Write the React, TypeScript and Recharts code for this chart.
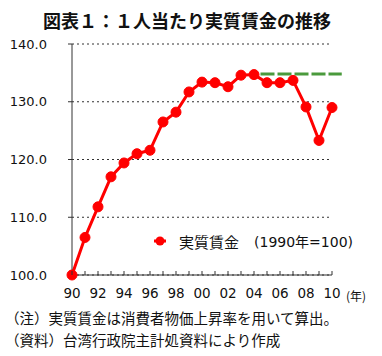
import { LineChart, Line, XAxis, YAxis, CartesianGrid, ReferenceLine } from 'recharts'

const years = [
  1990, 1991, 1992, 1993, 1994, 1995, 1996, 1997, 1998, 1999, 2000,
  2001, 2002, 2003, 2004, 2005, 2006, 2007, 2008, 2009, 2010,
]
const realWage = [
  100.0, 106.5, 111.8, 117.0, 119.4, 121.0, 121.6, 126.5, 128.2, 131.7, 133.4,
  133.3, 132.6, 134.6, 134.7, 133.3, 133.3, 133.7, 129.1, 123.3, 129.0,
]
const yTicks = [100, 110, 120, 130, 140]
// green dashed level line (previous peak)
const peakLevel = 134.8
const peakFrom = 2004.5
const peakTo = 2010.75

const title = '図表１：１人当たり実質賃金の推移'
const seriesName = '実質賃金'
const legendNote = '(1990年=100)'
const notes = [
  '（注）実質賃金は消費者物価上昇率を用いて算出。',
  '（資料）台湾行政院主計処資料により作成',
]

const data = years.map((year, i) => ({ year, wage: realWage[i] }))

const FONT = '"Noto Sans CJK JP", "Noto Sans", sans-serif'
const NUM_FONT = '"DejaVu Sans", "Noto Sans CJK JP", sans-serif'
const RED = '#ff0000'

const XTick = (props: any) => {
  const { x, y, payload } = props
  const yr: number = payload.value
  return (
    <g>
      <line x1={x} y1={y} x2={x} y2={y - 4} stroke="#333" strokeWidth={1} />
      {yr % 2 === 0 && (
        <text x={x} y={y + 23} textAnchor="middle" fontSize={13.5} fill="#111" fontFamily={NUM_FONT}>
          {String(yr).slice(2)}
        </text>
      )}
    </g>
  )
}

const App = () => {
  return (
    <div
      style={{
        position: 'absolute',
        left: 0,
        top: 0,
        width: 382,
        height: 356,
        background: '#fff',
        fontFamily: FONT,
        color: '#111',
      }}
    >
      <LineChart
        width={382}
        height={356}
        data={data}
        margin={{ top: 44, right: 50, bottom: 57, left: 0 }}
      >
        <CartesianGrid
          horizontal
          vertical={false}
          stroke="#333"
          strokeDasharray="2 3"
        />
        <XAxis
          dataKey="year"
          type="number"
          domain={[1990, 2010]}
          ticks={years}
          interval={0}
          height={24}
          tickSize={0}
          tickMargin={0}
          tickLine={false}
          axisLine={{ stroke: '#333' }}
          tick={<XTick />}
        />
        <YAxis
          domain={[100, 140]}
          ticks={yTicks}
          width={72}
          tickSize={4}
          tickMargin={21}
          tickFormatter={(v: number) => v.toFixed(1)}
          axisLine={{ stroke: '#333' }}
          tickLine={{ stroke: '#333' }}
          tick={{ fontSize: 13, fill: '#111', fontFamily: NUM_FONT }}
        />
        <ReferenceLine
          segment={[
            { x: peakFrom, y: peakLevel },
            { x: peakTo, y: peakLevel },
          ]}
          ifOverflow="visible"
          stroke="#4a9a3c"
          strokeWidth={3}
          strokeDasharray="14 3"
        />
        <Line
          dataKey="wage"
          stroke={RED}
          strokeWidth={3}
          dot={{ r: 5, fill: RED, stroke: RED, strokeWidth: 1 }}
          isAnimationActive={false}
        />
      </LineChart>

      <div
        style={{
          position: 'absolute',
          left: 0,
          width: 374,
          top: 10,
          textAlign: 'center',
          fontSize: 18,
          lineHeight: '20px',
          fontWeight: 'bold',
        }}
      >
        {title}
      </div>

      <div
        style={{
          position: 'absolute',
          left: 153,
          top: 230,
          height: 22,
          display: 'flex',
          alignItems: 'center',
          fontSize: 15,
          whiteSpace: 'nowrap',
        }}
      >
        <svg width={14} height={12} style={{ marginRight: 12 }}>
          <line x1={1} y1={6} x2={13} y2={6} stroke={RED} strokeWidth={3} />
          <circle cx={7} cy={6} r={4.5} fill={RED} />
        </svg>
        <span>{seriesName}</span>
        <span style={{ marginLeft: 15, fontFamily: NUM_FONT, fontSize: 14 }}>{legendNote}</span>
      </div>

      <div
        style={{
          position: 'absolute',
          left: 346,
          top: 288,
          fontSize: 12,
          lineHeight: '16px',
        }}
      >
        (年)
      </div>

      <div
        style={{
          position: 'absolute',
          left: 5,
          top: 307,
          fontSize: 14.5,
          lineHeight: '22px',
          whiteSpace: 'nowrap',
        }}
      >
        {notes.map((n) => (
          <div key={n}>{n}</div>
        ))}
      </div>
    </div>
  )
}

export default App
